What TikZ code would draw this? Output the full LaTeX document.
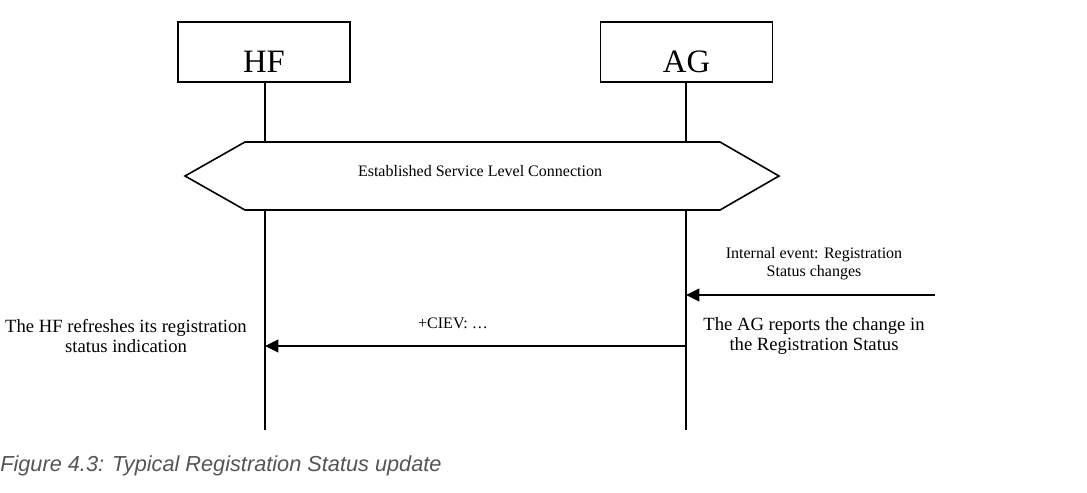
\documentclass[tikz,border=0pt]{standalone}
\usepackage{fontspec}
\setmainfont{Liberation Serif}
\setsansfont{Liberation Sans}
\usetikzlibrary{arrows.meta}
\definecolor{capgray}{RGB}{85,85,85}
\begin{document}
\begin{tikzpicture}[x=0.75pt,y=-0.75pt,
  entity/.style={draw,line width=0.8pt,minimum width=129pt,inner sep=0pt,text height=37.7pt,text depth=7.3pt,font=\fontsize{24.5}{30}\selectfont},
  lifeline/.style={line width=1.5pt},
  msg/.style={line width=1.6pt,-{Triangle[length=10pt,width=9.5pt]}},
  lbl/.style={align=center,inner sep=0pt,font=\fontsize{14}{15.5}\selectfont},
  smalllbl/.style={align=center,inner sep=0pt,font=\fontsize{12}{13.5}\selectfont},
  hexa/.style={draw,line width=1.2pt,fill=white}
]
\useasboundingbox (0,0) rectangle (1087,492);
% entities
\node[entity] (hf) at (264,52) {HF};
\node[entity] (ag) at (686.5,52) {AG};
\coordinate (hfend) at (265,430);
\coordinate (agend) at (686,430);
\draw[lifeline] (hf.south -| hfend) -- (hfend);
\draw[lifeline] (ag.south -| agend) -- (agend);
% service level connection
\draw[hexa] (185,176) -- (245,142) -- (720,142) -- (779,176) -- (720,210) -- (245,210) -- cycle;
\node[smalllbl] (slc) at (480,171) {Established Service Level Connection};
% internal event
\coordinate (ext) at (935,295);
\coordinate (agin) at (686,295);
\node[smalllbl] (ie) at (814,264) {Internal event: Registration\\Status changes};
\draw[msg] (ext) -- (agin);
% CIEV
\coordinate (agout) at (686,346);
\coordinate (hfin) at (265,346);
\draw[msg] (agout) -- (hfin);
\node[smalllbl] (ciev) at (453,323) {+CIEV: \dots};
\node[lbl] (agr) at (814,336) {The AG reports the change in\\the Registration Status};
\node[lbl] (hfr) at (126,336) {The HF refreshes its registration\\status indication};
% caption
\node[anchor=base west,inner sep=0pt,text=capgray,font=\sffamily\itshape\fontsize{16.3}{19}\selectfont] (cap) at (0,471) {Figure 4.3: Typical Registration Status update};
\end{tikzpicture}
\end{document}
